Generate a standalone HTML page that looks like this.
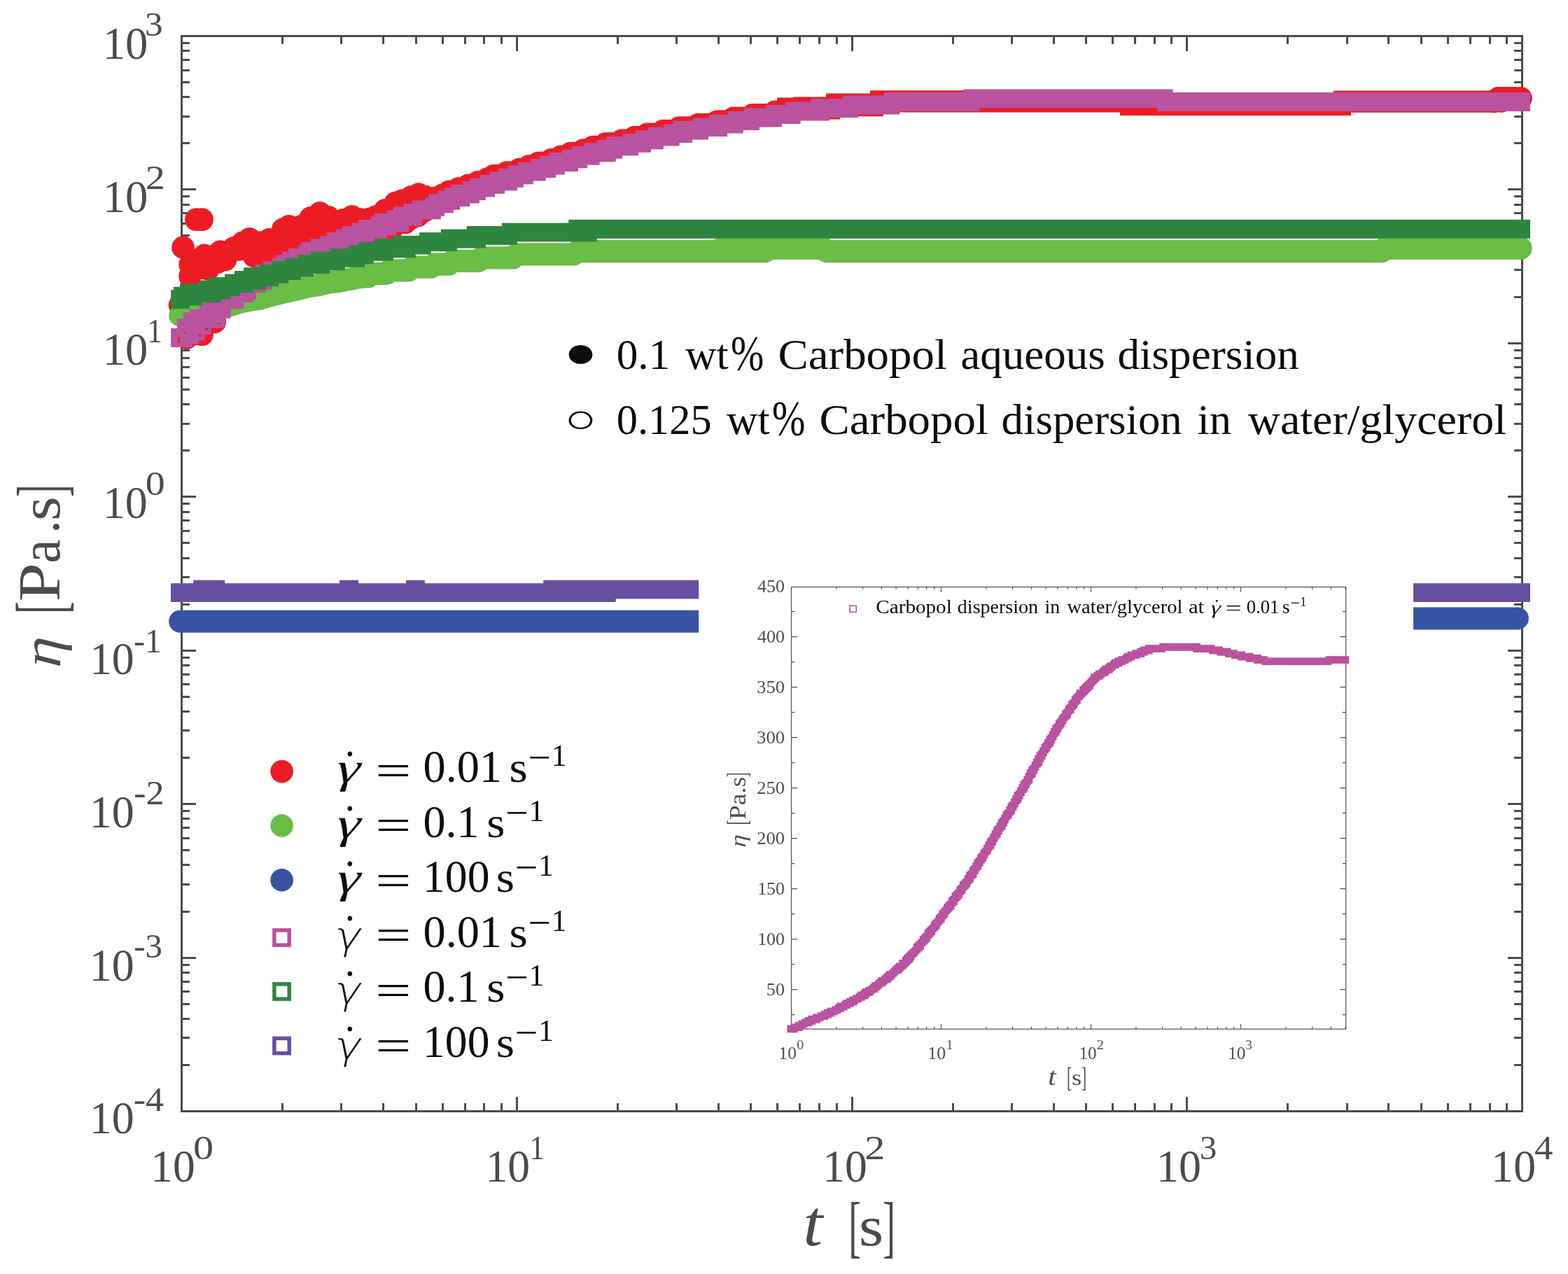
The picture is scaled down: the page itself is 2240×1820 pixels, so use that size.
<!DOCTYPE html>
<html><head><meta charset="utf-8"><title>Viscosity vs time</title>
<style>html,body{margin:0;padding:0;background:#fff}svg{display:block}text{font-family:'Liberation Serif',serif;white-space:pre}</style></head>
<body>
<svg width="2240" height="1820" viewBox="0 0 2240 1820">
<path d="M403.5 1587.5v-11.5M403.5 51.5v11.4M487.5 1587.5v-11.5M487.5 51.5v11.4M547.5 1587.5v-11.5M547.5 51.5v11.4M594.5 1587.5v-11.5M594.5 51.5v11.4M632.5 1587.5v-11.5M632.5 51.5v11.4M664.5 1587.5v-11.5M664.5 51.5v11.4M691.5 1587.5v-11.5M691.5 51.5v11.4M716.5 1587.5v-11.5M716.5 51.5v11.4M738.5 1587.5v-20.6M738.5 51.5v21.5M882.5 1587.5v-11.5M882.5 51.5v11.4M966.5 1587.5v-11.5M966.5 51.5v11.4M1026.5 1587.5v-11.5M1026.5 51.5v11.4M1072.5 1587.5v-11.5M1072.5 51.5v11.4M1110.5 1587.5v-11.5M1110.5 51.5v11.4M1142.5 1587.5v-11.5M1142.5 51.5v11.4M1170.5 1587.5v-11.5M1170.5 51.5v11.4M1195.5 1587.5v-11.5M1195.5 51.5v11.4M1217.5 1587.5v-20.6M1217.5 51.5v21.5M1361.5 1587.5v-11.5M1361.5 51.5v11.4M1445.5 1587.5v-11.5M1445.5 51.5v11.4M1505.5 1587.5v-11.5M1505.5 51.5v11.4M1551.5 1587.5v-11.5M1551.5 51.5v11.4M1589.5 1587.5v-11.5M1589.5 51.5v11.4M1621.5 1587.5v-11.5M1621.5 51.5v11.4M1649.5 1587.5v-11.5M1649.5 51.5v11.4M1673.5 1587.5v-11.5M1673.5 51.5v11.4M1695.5 1587.5v-20.6M1695.5 51.5v21.5M1839.5 1587.5v-11.5M1839.5 51.5v11.4M1924.5 1587.5v-11.5M1924.5 51.5v11.4M1983.5 1587.5v-11.5M1983.5 51.5v11.4M2030.5 1587.5v-11.5M2030.5 51.5v11.4M2068.5 1587.5v-11.5M2068.5 51.5v11.4M2100.5 1587.5v-11.5M2100.5 51.5v11.4M2128.5 1587.5v-11.5M2128.5 51.5v11.4M2152.5 1587.5v-11.5M2152.5 51.5v11.4M259.5 1521.5h11.45M2174.5 1521.5h-11.45M259.5 1482.5h11.45M2174.5 1482.5h-11.45M259.5 1455.5h11.45M2174.5 1455.5h-11.45M259.5 1434.5h11.45M2174.5 1434.5h-11.45M259.5 1416.5h11.45M2174.5 1416.5h-11.45M259.5 1402.5h11.45M2174.5 1402.5h-11.45M259.5 1389.5h11.45M2174.5 1389.5h-11.45M259.5 1378.5h11.45M2174.5 1378.5h-11.45M259.5 1368.5h20.5M2174.5 1368.5h-20.5M259.5 1302.5h11.45M2174.5 1302.5h-11.45M259.5 1263.5h11.45M2174.5 1263.5h-11.45M259.5 1235.5h11.45M2174.5 1235.5h-11.45M259.5 1214.5h11.45M2174.5 1214.5h-11.45M259.5 1197.5h11.45M2174.5 1197.5h-11.45M259.5 1182.5h11.45M2174.5 1182.5h-11.45M259.5 1169.5h11.45M2174.5 1169.5h-11.45M259.5 1158.5h11.45M2174.5 1158.5h-11.45M259.5 1148.5h20.5M2174.5 1148.5h-20.5M259.5 1082.5h11.45M2174.5 1082.5h-11.45M259.5 1043.5h11.45M2174.5 1043.5h-11.45M259.5 1016.5h11.45M2174.5 1016.5h-11.45M259.5 995.5h11.45M2174.5 995.5h-11.45M259.5 977.5h11.45M2174.5 977.5h-11.45M259.5 963.5h11.45M2174.5 963.5h-11.45M259.5 950.5h11.45M2174.5 950.5h-11.45M259.5 939.5h11.45M2174.5 939.5h-11.45M259.5 929.5h20.5M2174.5 929.5h-20.5M259.5 863.5h11.45M2174.5 863.5h-11.45M259.5 824.5h11.45M2174.5 824.5h-11.45M259.5 797.5h11.45M2174.5 797.5h-11.45M259.5 775.5h11.45M2174.5 775.5h-11.45M259.5 758.5h11.45M2174.5 758.5h-11.45M259.5 743.5h11.45M2174.5 743.5h-11.45M259.5 731.5h11.45M2174.5 731.5h-11.45M259.5 719.5h11.45M2174.5 719.5h-11.45M259.5 709.5h20.5M2174.5 709.5h-20.5M259.5 643.5h11.45M2174.5 643.5h-11.45M259.5 605.5h11.45M2174.5 605.5h-11.45M259.5 577.5h11.45M2174.5 577.5h-11.45M259.5 556.5h11.45M2174.5 556.5h-11.45M259.5 539.5h11.45M2174.5 539.5h-11.45M259.5 524.5h11.45M2174.5 524.5h-11.45M259.5 511.5h11.45M2174.5 511.5h-11.45M259.5 500.5h11.45M2174.5 500.5h-11.45M259.5 490.5h20.5M2174.5 490.5h-20.5M259.5 424.5h11.45M2174.5 424.5h-11.45M259.5 385.5h11.45M2174.5 385.5h-11.45M259.5 358.5h11.45M2174.5 358.5h-11.45M259.5 336.5h11.45M2174.5 336.5h-11.45M259.5 319.5h11.45M2174.5 319.5h-11.45M259.5 304.5h11.45M2174.5 304.5h-11.45M259.5 292.5h11.45M2174.5 292.5h-11.45M259.5 280.5h11.45M2174.5 280.5h-11.45M259.5 270.5h20.5M2174.5 270.5h-20.5M259.5 204.5h11.45M2174.5 204.5h-11.45M259.5 166.5h11.45M2174.5 166.5h-11.45M259.5 138.5h11.45M2174.5 138.5h-11.45M259.5 117.5h11.45M2174.5 117.5h-11.45M259.5 100.5h11.45M2174.5 100.5h-11.45M259.5 85.5h11.45M2174.5 85.5h-11.45M259.5 72.5h11.45M2174.5 72.5h-11.45M259.5 61.5h11.45M2174.5 61.5h-11.45" stroke="#4a4b4d" stroke-width="3" fill="none"/>
<rect x="259.5" y="51.5" width="1915" height="1536" fill="none" stroke="#4a4b4d" stroke-width="3"/>
<g fill="#ed1c24">
<path d="M264 313.6a16.3 16.3 0 1 0 32.6 0a16.3 16.3 0 1 0 -32.6 0ZM272.3 313.6a16.3 16.3 0 1 0 32.6 0a16.3 16.3 0 1 0 -32.6 0ZM245.2 353.5a16.3 16.3 0 1 0 32.6 0a16.3 16.3 0 1 0 -32.6 0ZM255.3 378.1a16.3 16.3 0 1 0 32.6 0a16.3 16.3 0 1 0 -32.6 0ZM255.3 394.5a16.3 16.3 0 1 0 32.6 0a16.3 16.3 0 1 0 -32.6 0ZM281.2 384.4a16.3 16.3 0 1 0 32.6 0a16.3 16.3 0 1 0 -32.6 0ZM305.7 371a16.3 16.3 0 1 0 32.6 0a16.3 16.3 0 1 0 -32.6 0ZM346.7 366a16.3 16.3 0 1 0 32.6 0a16.3 16.3 0 1 0 -32.6 0ZM268.7 383a16.3 16.3 0 1 0 32.6 0a16.3 16.3 0 1 0 -32.6 0ZM293.7 375a16.3 16.3 0 1 0 32.6 0a16.3 16.3 0 1 0 -32.6 0ZM250.3 482.8a16.3 16.3 0 1 0 32.6 0a16.3 16.3 0 1 0 -32.6 0ZM272.3 477.9a16.3 16.3 0 1 0 32.6 0a16.3 16.3 0 1 0 -32.6 0ZM290.4 460a16.3 16.3 0 1 0 32.6 0a16.3 16.3 0 1 0 -32.6 0ZM240.7 436a16.3 16.3 0 1 0 32.6 0a16.3 16.3 0 1 0 -32.6 0ZM583.7 304.3a16.3 16.3 0 1 0 32.6 0a16.3 16.3 0 1 0 -32.6 0ZM589.7 301.5a16.3 16.3 0 1 0 32.6 0a16.3 16.3 0 1 0 -32.6 0ZM262.2 371.9a16.3 16.3 0 1 0 32.6 0a16.3 16.3 0 1 0 -32.6 0ZM275.6 364.9a16.3 16.3 0 1 0 32.6 0a16.3 16.3 0 1 0 -32.6 0ZM286.8 366.3a16.3 16.3 0 1 0 32.6 0a16.3 16.3 0 1 0 -32.6 0ZM298.1 359.5a16.3 16.3 0 1 0 32.6 0a16.3 16.3 0 1 0 -32.6 0ZM306.5 360.7a16.3 16.3 0 1 0 32.6 0a16.3 16.3 0 1 0 -32.6 0ZM317.7 354.3a16.3 16.3 0 1 0 32.6 0a16.3 16.3 0 1 0 -32.6 0ZM324.8 356.4a16.3 16.3 0 1 0 32.6 0a16.3 16.3 0 1 0 -32.6 0ZM330.4 346.6a16.3 16.3 0 1 0 32.6 0a16.3 16.3 0 1 0 -32.6 0ZM340.2 341.4a16.3 16.3 0 1 0 32.6 0a16.3 16.3 0 1 0 -32.6 0ZM354.3 346.6a16.3 16.3 0 1 0 32.6 0a16.3 16.3 0 1 0 -32.6 0ZM368.3 342.4a16.3 16.3 0 1 0 32.6 0a16.3 16.3 0 1 0 -32.6 0ZM384.5 336.8a16.3 16.3 0 1 0 32.6 0a16.3 16.3 0 1 0 -32.6 0ZM388 327.6a16.3 16.3 0 1 0 32.6 0a16.3 16.3 0 1 0 -32.6 0ZM396.5 323.4a16.3 16.3 0 1 0 32.6 0a16.3 16.3 0 1 0 -32.6 0ZM406.3 325.5a16.3 16.3 0 1 0 32.6 0a16.3 16.3 0 1 0 -32.6 0ZM413.3 323.4a16.3 16.3 0 1 0 32.6 0a16.3 16.3 0 1 0 -32.6 0ZM421.8 324.8a16.3 16.3 0 1 0 32.6 0a16.3 16.3 0 1 0 -32.6 0ZM427.4 311.4a16.3 16.3 0 1 0 32.6 0a16.3 16.3 0 1 0 -32.6 0ZM440.7 304.4a16.3 16.3 0 1 0 32.6 0a16.3 16.3 0 1 0 -32.6 0ZM452.7 310a16.3 16.3 0 1 0 32.6 0a16.3 16.3 0 1 0 -32.6 0ZM458.3 321.3a16.3 16.3 0 1 0 32.6 0a16.3 16.3 0 1 0 -32.6 0ZM473.8 314.3a16.3 16.3 0 1 0 32.6 0a16.3 16.3 0 1 0 -32.6 0ZM486.4 309.3a16.3 16.3 0 1 0 32.6 0a16.3 16.3 0 1 0 -32.6 0ZM499.1 313.6a16.3 16.3 0 1 0 32.6 0a16.3 16.3 0 1 0 -32.6 0ZM503.7 315.8a16.3 16.3 0 1 0 32.6 0a16.3 16.3 0 1 0 -32.6 0ZM507.9 316.5a16.3 16.3 0 1 0 32.6 0a16.3 16.3 0 1 0 -32.6 0ZM512.1 312.7a16.3 16.3 0 1 0 32.6 0a16.3 16.3 0 1 0 -32.6 0ZM520.6 309.5a16.3 16.3 0 1 0 32.6 0a16.3 16.3 0 1 0 -32.6 0ZM529 310.2a16.3 16.3 0 1 0 32.6 0a16.3 16.3 0 1 0 -32.6 0ZM533.9 300.3a16.3 16.3 0 1 0 32.6 0a16.3 16.3 0 1 0 -32.6 0ZM545.9 294.7a16.3 16.3 0 1 0 32.6 0a16.3 16.3 0 1 0 -32.6 0ZM548.7 289.8a16.3 16.3 0 1 0 32.6 0a16.3 16.3 0 1 0 -32.6 0ZM558.5 286.6a16.3 16.3 0 1 0 32.6 0a16.3 16.3 0 1 0 -32.6 0ZM564.2 288.4a16.3 16.3 0 1 0 32.6 0a16.3 16.3 0 1 0 -32.6 0ZM571.2 281.4a16.3 16.3 0 1 0 32.6 0a16.3 16.3 0 1 0 -32.6 0ZM581.7 277.6a16.3 16.3 0 1 0 32.6 0a16.3 16.3 0 1 0 -32.6 0ZM590.9 280.7a16.3 16.3 0 1 0 32.6 0a16.3 16.3 0 1 0 -32.6 0ZM596.5 286.3a16.3 16.3 0 1 0 32.6 0a16.3 16.3 0 1 0 -32.6 0ZM602.1 284.2a16.3 16.3 0 1 0 32.6 0a16.3 16.3 0 1 0 -32.6 0ZM355.7 368.18a16.3 16.3 0 1 0 32.6 0a16.3 16.3 0 1 0 -32.6 0ZM364.7 365.48a16.3 16.3 0 1 0 32.6 0a16.3 16.3 0 1 0 -32.6 0ZM364.7 383.48a16.3 16.3 0 1 0 32.6 0a16.3 16.3 0 1 0 -32.6 0ZM373.7 362.53a16.3 16.3 0 1 0 32.6 0a16.3 16.3 0 1 0 -32.6 0ZM373.7 380.53a16.3 16.3 0 1 0 32.6 0a16.3 16.3 0 1 0 -32.6 0ZM382.7 359.42a16.3 16.3 0 1 0 32.6 0a16.3 16.3 0 1 0 -32.6 0ZM382.7 377.42a16.3 16.3 0 1 0 32.6 0a16.3 16.3 0 1 0 -32.6 0ZM391.7 347.77a16.3 16.3 0 1 0 32.6 0a16.3 16.3 0 1 0 -32.6 0ZM391.7 365.77a16.3 16.3 0 1 0 32.6 0a16.3 16.3 0 1 0 -32.6 0ZM400.7 346.3a16.3 16.3 0 1 0 32.6 0a16.3 16.3 0 1 0 -32.6 0ZM400.7 364.3a16.3 16.3 0 1 0 32.6 0a16.3 16.3 0 1 0 -32.6 0ZM409.7 346.48a16.3 16.3 0 1 0 32.6 0a16.3 16.3 0 1 0 -32.6 0ZM409.7 364.48a16.3 16.3 0 1 0 32.6 0a16.3 16.3 0 1 0 -32.6 0ZM418.7 346.29a16.3 16.3 0 1 0 32.6 0a16.3 16.3 0 1 0 -32.6 0ZM418.7 364.29a16.3 16.3 0 1 0 32.6 0a16.3 16.3 0 1 0 -32.6 0ZM427.7 333.24a16.3 16.3 0 1 0 32.6 0a16.3 16.3 0 1 0 -32.6 0ZM427.7 351.24a16.3 16.3 0 1 0 32.6 0a16.3 16.3 0 1 0 -32.6 0ZM436.7 328.51a16.3 16.3 0 1 0 32.6 0a16.3 16.3 0 1 0 -32.6 0ZM436.7 346.51a16.3 16.3 0 1 0 32.6 0a16.3 16.3 0 1 0 -32.6 0ZM445.7 328.73a16.3 16.3 0 1 0 32.6 0a16.3 16.3 0 1 0 -32.6 0ZM445.7 346.73a16.3 16.3 0 1 0 32.6 0a16.3 16.3 0 1 0 -32.6 0ZM454.7 336.04a16.3 16.3 0 1 0 32.6 0a16.3 16.3 0 1 0 -32.6 0ZM454.7 354.04a16.3 16.3 0 1 0 32.6 0a16.3 16.3 0 1 0 -32.6 0ZM463.7 340.86a16.3 16.3 0 1 0 32.6 0a16.3 16.3 0 1 0 -32.6 0ZM463.7 358.86a16.3 16.3 0 1 0 32.6 0a16.3 16.3 0 1 0 -32.6 0ZM472.7 336.8a16.3 16.3 0 1 0 32.6 0a16.3 16.3 0 1 0 -32.6 0ZM472.7 354.8a16.3 16.3 0 1 0 32.6 0a16.3 16.3 0 1 0 -32.6 0ZM481.7 333.17a16.3 16.3 0 1 0 32.6 0a16.3 16.3 0 1 0 -32.6 0ZM481.7 351.17a16.3 16.3 0 1 0 32.6 0a16.3 16.3 0 1 0 -32.6 0ZM490.7 332.76a16.3 16.3 0 1 0 32.6 0a16.3 16.3 0 1 0 -32.6 0ZM490.7 350.76a16.3 16.3 0 1 0 32.6 0a16.3 16.3 0 1 0 -32.6 0ZM499.7 335.89a16.3 16.3 0 1 0 32.6 0a16.3 16.3 0 1 0 -32.6 0ZM499.7 353.89a16.3 16.3 0 1 0 32.6 0a16.3 16.3 0 1 0 -32.6 0ZM508.7 337.78a16.3 16.3 0 1 0 32.6 0a16.3 16.3 0 1 0 -32.6 0ZM508.7 345.78a16.3 16.3 0 1 0 32.6 0a16.3 16.3 0 1 0 -32.6 0ZM517.7 332.59a16.3 16.3 0 1 0 32.6 0a16.3 16.3 0 1 0 -32.6 0ZM517.7 340.59a16.3 16.3 0 1 0 32.6 0a16.3 16.3 0 1 0 -32.6 0ZM526.7 332.01a16.3 16.3 0 1 0 32.6 0a16.3 16.3 0 1 0 -32.6 0ZM526.7 340.01a16.3 16.3 0 1 0 32.6 0a16.3 16.3 0 1 0 -32.6 0ZM535.7 321.46a16.3 16.3 0 1 0 32.6 0a16.3 16.3 0 1 0 -32.6 0ZM535.7 329.46a16.3 16.3 0 1 0 32.6 0a16.3 16.3 0 1 0 -32.6 0ZM544.7 317.26a16.3 16.3 0 1 0 32.6 0a16.3 16.3 0 1 0 -32.6 0ZM544.7 325.26a16.3 16.3 0 1 0 32.6 0a16.3 16.3 0 1 0 -32.6 0ZM553.7 310.17a16.3 16.3 0 1 0 32.6 0a16.3 16.3 0 1 0 -32.6 0ZM553.7 318.17a16.3 16.3 0 1 0 32.6 0a16.3 16.3 0 1 0 -32.6 0ZM562.7 309.93a16.3 16.3 0 1 0 32.6 0a16.3 16.3 0 1 0 -32.6 0ZM562.7 317.93a16.3 16.3 0 1 0 32.6 0a16.3 16.3 0 1 0 -32.6 0ZM571.7 303.22a16.3 16.3 0 1 0 32.6 0a16.3 16.3 0 1 0 -32.6 0ZM571.7 311.22a16.3 16.3 0 1 0 32.6 0a16.3 16.3 0 1 0 -32.6 0ZM580.7 299.96a16.3 16.3 0 1 0 32.6 0a16.3 16.3 0 1 0 -32.6 0ZM580.7 307.96a16.3 16.3 0 1 0 32.6 0a16.3 16.3 0 1 0 -32.6 0ZM597.7 287.6a16.3 16.3 0 1 0 32.6 0a16.3 16.3 0 1 0 -32.6 0ZM602.27 283.03a16.3 16.3 0 1 0 32.6 0a16.3 16.3 0 1 0 -32.6 0ZM606.83 283.03a16.3 16.3 0 1 0 32.6 0a16.3 16.3 0 1 0 -32.6 0ZM611.4 283.03a16.3 16.3 0 1 0 32.6 0a16.3 16.3 0 1 0 -32.6 0ZM615.96 278.47a16.3 16.3 0 1 0 32.6 0a16.3 16.3 0 1 0 -32.6 0ZM620.53 278.47a16.3 16.3 0 1 0 32.6 0a16.3 16.3 0 1 0 -32.6 0ZM625.09 273.9a16.3 16.3 0 1 0 32.6 0a16.3 16.3 0 1 0 -32.6 0ZM629.66 273.9a16.3 16.3 0 1 0 32.6 0a16.3 16.3 0 1 0 -32.6 0ZM634.22 273.9a16.3 16.3 0 1 0 32.6 0a16.3 16.3 0 1 0 -32.6 0ZM638.79 269.34a16.3 16.3 0 1 0 32.6 0a16.3 16.3 0 1 0 -32.6 0ZM643.35 269.34a16.3 16.3 0 1 0 32.6 0a16.3 16.3 0 1 0 -32.6 0ZM647.92 269.34a16.3 16.3 0 1 0 32.6 0a16.3 16.3 0 1 0 -32.6 0ZM652.48 264.77a16.3 16.3 0 1 0 32.6 0a16.3 16.3 0 1 0 -32.6 0ZM657.05 264.77a16.3 16.3 0 1 0 32.6 0a16.3 16.3 0 1 0 -32.6 0ZM661.61 264.77a16.3 16.3 0 1 0 32.6 0a16.3 16.3 0 1 0 -32.6 0ZM666.18 260.21a16.3 16.3 0 1 0 32.6 0a16.3 16.3 0 1 0 -32.6 0ZM670.74 260.21a16.3 16.3 0 1 0 32.6 0a16.3 16.3 0 1 0 -32.6 0ZM675.31 260.21a16.3 16.3 0 1 0 32.6 0a16.3 16.3 0 1 0 -32.6 0ZM679.87 255.64a16.3 16.3 0 1 0 32.6 0a16.3 16.3 0 1 0 -32.6 0ZM684.44 255.64a16.3 16.3 0 1 0 32.6 0a16.3 16.3 0 1 0 -32.6 0ZM689 251.08a16.3 16.3 0 1 0 32.6 0a16.3 16.3 0 1 0 -32.6 0ZM693.57 251.08a16.3 16.3 0 1 0 32.6 0a16.3 16.3 0 1 0 -32.6 0ZM698.13 251.08a16.3 16.3 0 1 0 32.6 0a16.3 16.3 0 1 0 -32.6 0ZM702.7 251.08a16.3 16.3 0 1 0 32.6 0a16.3 16.3 0 1 0 -32.6 0ZM707.26 246.51a16.3 16.3 0 1 0 32.6 0a16.3 16.3 0 1 0 -32.6 0ZM711.83 246.51a16.3 16.3 0 1 0 32.6 0a16.3 16.3 0 1 0 -32.6 0ZM716.39 246.51a16.3 16.3 0 1 0 32.6 0a16.3 16.3 0 1 0 -32.6 0ZM720.96 246.51a16.3 16.3 0 1 0 32.6 0a16.3 16.3 0 1 0 -32.6 0ZM725.52 241.95a16.3 16.3 0 1 0 32.6 0a16.3 16.3 0 1 0 -32.6 0ZM730.09 241.95a16.3 16.3 0 1 0 32.6 0a16.3 16.3 0 1 0 -32.6 0ZM734.65 241.95a16.3 16.3 0 1 0 32.6 0a16.3 16.3 0 1 0 -32.6 0ZM739.22 237.38a16.3 16.3 0 1 0 32.6 0a16.3 16.3 0 1 0 -32.6 0ZM743.78 237.38a16.3 16.3 0 1 0 32.6 0a16.3 16.3 0 1 0 -32.6 0ZM748.35 237.38a16.3 16.3 0 1 0 32.6 0a16.3 16.3 0 1 0 -32.6 0ZM752.91 232.82a16.3 16.3 0 1 0 32.6 0a16.3 16.3 0 1 0 -32.6 0ZM757.48 232.82a16.3 16.3 0 1 0 32.6 0a16.3 16.3 0 1 0 -32.6 0ZM762.04 232.82a16.3 16.3 0 1 0 32.6 0a16.3 16.3 0 1 0 -32.6 0ZM766.61 232.82a16.3 16.3 0 1 0 32.6 0a16.3 16.3 0 1 0 -32.6 0ZM771.17 228.25a16.3 16.3 0 1 0 32.6 0a16.3 16.3 0 1 0 -32.6 0ZM775.74 228.25a16.3 16.3 0 1 0 32.6 0a16.3 16.3 0 1 0 -32.6 0ZM780.3 228.25a16.3 16.3 0 1 0 32.6 0a16.3 16.3 0 1 0 -32.6 0ZM784.87 223.69a16.3 16.3 0 1 0 32.6 0a16.3 16.3 0 1 0 -32.6 0ZM789.43 223.69a16.3 16.3 0 1 0 32.6 0a16.3 16.3 0 1 0 -32.6 0ZM794 223.69a16.3 16.3 0 1 0 32.6 0a16.3 16.3 0 1 0 -32.6 0ZM798.56 219.12a16.3 16.3 0 1 0 32.6 0a16.3 16.3 0 1 0 -32.6 0ZM803.13 219.12a16.3 16.3 0 1 0 32.6 0a16.3 16.3 0 1 0 -32.6 0ZM807.69 219.12a16.3 16.3 0 1 0 32.6 0a16.3 16.3 0 1 0 -32.6 0ZM812.26 219.12a16.3 16.3 0 1 0 32.6 0a16.3 16.3 0 1 0 -32.6 0ZM816.82 214.56a16.3 16.3 0 1 0 32.6 0a16.3 16.3 0 1 0 -32.6 0ZM821.39 214.56a16.3 16.3 0 1 0 32.6 0a16.3 16.3 0 1 0 -32.6 0ZM825.95 214.56a16.3 16.3 0 1 0 32.6 0a16.3 16.3 0 1 0 -32.6 0ZM830.52 209.99a16.3 16.3 0 1 0 32.6 0a16.3 16.3 0 1 0 -32.6 0ZM835.08 209.99a16.3 16.3 0 1 0 32.6 0a16.3 16.3 0 1 0 -32.6 0ZM839.65 209.99a16.3 16.3 0 1 0 32.6 0a16.3 16.3 0 1 0 -32.6 0ZM844.21 209.99a16.3 16.3 0 1 0 32.6 0a16.3 16.3 0 1 0 -32.6 0ZM848.78 205.43a16.3 16.3 0 1 0 32.6 0a16.3 16.3 0 1 0 -32.6 0ZM853.34 205.43a16.3 16.3 0 1 0 32.6 0a16.3 16.3 0 1 0 -32.6 0ZM857.91 205.43a16.3 16.3 0 1 0 32.6 0a16.3 16.3 0 1 0 -32.6 0ZM862.47 205.43a16.3 16.3 0 1 0 32.6 0a16.3 16.3 0 1 0 -32.6 0ZM867.04 205.43a16.3 16.3 0 1 0 32.6 0a16.3 16.3 0 1 0 -32.6 0ZM871.6 200.86a16.3 16.3 0 1 0 32.6 0a16.3 16.3 0 1 0 -32.6 0ZM876.17 200.86a16.3 16.3 0 1 0 32.6 0a16.3 16.3 0 1 0 -32.6 0ZM880.73 200.86a16.3 16.3 0 1 0 32.6 0a16.3 16.3 0 1 0 -32.6 0ZM885.3 200.86a16.3 16.3 0 1 0 32.6 0a16.3 16.3 0 1 0 -32.6 0ZM889.86 196.3a16.3 16.3 0 1 0 32.6 0a16.3 16.3 0 1 0 -32.6 0ZM894.43 196.3a16.3 16.3 0 1 0 32.6 0a16.3 16.3 0 1 0 -32.6 0ZM898.99 196.3a16.3 16.3 0 1 0 32.6 0a16.3 16.3 0 1 0 -32.6 0ZM903.56 196.3a16.3 16.3 0 1 0 32.6 0a16.3 16.3 0 1 0 -32.6 0ZM908.12 191.73a16.3 16.3 0 1 0 32.6 0a16.3 16.3 0 1 0 -32.6 0ZM912.69 191.73a16.3 16.3 0 1 0 32.6 0a16.3 16.3 0 1 0 -32.6 0ZM917.25 191.73a16.3 16.3 0 1 0 32.6 0a16.3 16.3 0 1 0 -32.6 0ZM921.82 191.73a16.3 16.3 0 1 0 32.6 0a16.3 16.3 0 1 0 -32.6 0ZM926.38 191.73a16.3 16.3 0 1 0 32.6 0a16.3 16.3 0 1 0 -32.6 0ZM930.95 187.17a16.3 16.3 0 1 0 32.6 0a16.3 16.3 0 1 0 -32.6 0ZM935.51 187.17a16.3 16.3 0 1 0 32.6 0a16.3 16.3 0 1 0 -32.6 0ZM940.08 187.17a16.3 16.3 0 1 0 32.6 0a16.3 16.3 0 1 0 -32.6 0ZM944.64 187.17a16.3 16.3 0 1 0 32.6 0a16.3 16.3 0 1 0 -32.6 0ZM949.21 187.17a16.3 16.3 0 1 0 32.6 0a16.3 16.3 0 1 0 -32.6 0ZM953.77 182.6a16.3 16.3 0 1 0 32.6 0a16.3 16.3 0 1 0 -32.6 0ZM958.34 182.6a16.3 16.3 0 1 0 32.6 0a16.3 16.3 0 1 0 -32.6 0ZM962.9 182.6a16.3 16.3 0 1 0 32.6 0a16.3 16.3 0 1 0 -32.6 0ZM967.47 182.6a16.3 16.3 0 1 0 32.6 0a16.3 16.3 0 1 0 -32.6 0ZM972.03 182.6a16.3 16.3 0 1 0 32.6 0a16.3 16.3 0 1 0 -32.6 0ZM976.6 182.6a16.3 16.3 0 1 0 32.6 0a16.3 16.3 0 1 0 -32.6 0ZM981.16 178.04a16.3 16.3 0 1 0 32.6 0a16.3 16.3 0 1 0 -32.6 0ZM985.73 178.04a16.3 16.3 0 1 0 32.6 0a16.3 16.3 0 1 0 -32.6 0ZM990.29 178.04a16.3 16.3 0 1 0 32.6 0a16.3 16.3 0 1 0 -32.6 0ZM994.86 178.04a16.3 16.3 0 1 0 32.6 0a16.3 16.3 0 1 0 -32.6 0ZM999.42 178.04a16.3 16.3 0 1 0 32.6 0a16.3 16.3 0 1 0 -32.6 0ZM1003.99 178.04a16.3 16.3 0 1 0 32.6 0a16.3 16.3 0 1 0 -32.6 0ZM1008.55 173.47a16.3 16.3 0 1 0 32.6 0a16.3 16.3 0 1 0 -32.6 0ZM1013.12 173.47a16.3 16.3 0 1 0 32.6 0a16.3 16.3 0 1 0 -32.6 0ZM1017.68 173.47a16.3 16.3 0 1 0 32.6 0a16.3 16.3 0 1 0 -32.6 0ZM1022.25 173.47a16.3 16.3 0 1 0 32.6 0a16.3 16.3 0 1 0 -32.6 0ZM1026.81 173.47a16.3 16.3 0 1 0 32.6 0a16.3 16.3 0 1 0 -32.6 0ZM1031.38 168.91a16.3 16.3 0 1 0 32.6 0a16.3 16.3 0 1 0 -32.6 0ZM1035.94 168.91a16.3 16.3 0 1 0 32.6 0a16.3 16.3 0 1 0 -32.6 0ZM1040.51 168.91a16.3 16.3 0 1 0 32.6 0a16.3 16.3 0 1 0 -32.6 0ZM1045.07 168.91a16.3 16.3 0 1 0 32.6 0a16.3 16.3 0 1 0 -32.6 0ZM1049.64 168.91a16.3 16.3 0 1 0 32.6 0a16.3 16.3 0 1 0 -32.6 0ZM1054.2 168.91a16.3 16.3 0 1 0 32.6 0a16.3 16.3 0 1 0 -32.6 0ZM1058.77 164.34a16.3 16.3 0 1 0 32.6 0a16.3 16.3 0 1 0 -32.6 0ZM1063.33 164.34a16.3 16.3 0 1 0 32.6 0a16.3 16.3 0 1 0 -32.6 0ZM1067.9 164.34a16.3 16.3 0 1 0 32.6 0a16.3 16.3 0 1 0 -32.6 0ZM1072.46 164.34a16.3 16.3 0 1 0 32.6 0a16.3 16.3 0 1 0 -32.6 0ZM1077.03 164.34a16.3 16.3 0 1 0 32.6 0a16.3 16.3 0 1 0 -32.6 0ZM1081.59 164.34a16.3 16.3 0 1 0 32.6 0a16.3 16.3 0 1 0 -32.6 0ZM1086.16 164.34a16.3 16.3 0 1 0 32.6 0a16.3 16.3 0 1 0 -32.6 0ZM1090.72 159.78a16.3 16.3 0 1 0 32.6 0a16.3 16.3 0 1 0 -32.6 0ZM1095.29 159.78a16.3 16.3 0 1 0 32.6 0a16.3 16.3 0 1 0 -32.6 0Z"/>
<path d="M1110 139.4H1160V172H1110ZM1133 138.4H1200V170.6H1133ZM1180 133.6H1262V166.2H1180ZM1243 129.2H1640V160.6H1243ZM1600 132.8H1930V165.1H1600ZM1905 129.4H2134.7V160.8H1905Z"/>
<path d="M2124.3 140.2a16.2 16.2 0 1 0 32.4 0a16.2 16.2 0 1 0 -32.4 0ZM2128.8 140.2a16.2 16.2 0 1 0 32.4 0a16.2 16.2 0 1 0 -32.4 0ZM2133.8 140.2a16.2 16.2 0 1 0 32.4 0a16.2 16.2 0 1 0 -32.4 0ZM2138.8 140.2a16.2 16.2 0 1 0 32.4 0a16.2 16.2 0 1 0 -32.4 0ZM2143.8 140.2a16.2 16.2 0 1 0 32.4 0a16.2 16.2 0 1 0 -32.4 0ZM2148.8 140.2a16.2 16.2 0 1 0 32.4 0a16.2 16.2 0 1 0 -32.4 0ZM2156.4 140.2a16.2 16.2 0 1 0 32.4 0a16.2 16.2 0 1 0 -32.4 0ZM2118.5 145.1a16.2 16.2 0 1 0 32.4 0a16.2 16.2 0 1 0 -32.4 0ZM2128.6 144.5a16.2 16.2 0 1 0 32.4 0a16.2 16.2 0 1 0 -32.4 0Z"/>
</g>
<path d="M257.4 450.5L280 446L329.8 435.9L342.5 431.7L356.5 428.9L370.6 426.8L384.6 422.5L398.7 419L412.8 415.9L426.8 412.7L440.9 409.2L454.9 407.1L469 403.6L483.1 402.2L497.1 399.3L511.2 396.5L520 395.5L526 395.5L530.6 390.8L552 390.8L556.6 386.4L584 386.4L588.6 381.6L616 381.6L620.6 377.6L641.5 377.6L646.1 372.8L683.5 372.8L688.1 368.4L733 368.4L737.6 363.4L820 363.4L824.6 359.2L1093 359.2L1097 354.7L1176 354.7L1181 359.2L1974 359.2L1978 354.7L2172.6 354.7M1031 354.7H1100" fill="none" stroke="#6abd45" stroke-width="32.2" stroke-linecap="round" stroke-linejoin="round"/>
<path d="M257.2 887.8H1000M2000 883.4H2167.9" fill="none" stroke="#3953a4" stroke-width="32" stroke-linecap="round"/>
<path d="M244.1 469.05H275V495.95H244.1ZM257.2 464.49H284.1V491.39H257.2ZM265.9 459.92H292.8V486.82H265.9ZM253.2 455.36H280.1V482.26H253.2ZM275.1 450.79H302V477.69H275.1ZM262.1 446.23H289V473.13H262.1ZM271.1 441.66H321.4V468.56H271.1ZM284.8 437.1H311.7V464H284.8ZM289 432.53H315.9V459.43H289ZM296.3 427.97H329.8V454.87H296.3ZM298 423.4H328.9V450.3H298ZM300 418.84H329.8V445.74H300ZM307 414.27H348.1V441.17H307ZM315 409.71H348.1V436.61H315ZM325 405.14H362.2V432.04H325ZM332 400.58H366.1V427.48H332ZM336 396.01H366.1V422.91H336ZM343 391.45H380.1V418.35H343ZM350 386.88H388.9V413.78H350ZM358 382.32H392.9V409.22H358ZM365 377.75H398.9V404.65H365ZM376.2 373.19H410.8V400.09H376.2ZM388.9 368.62H415.8V395.52H388.9ZM393.8 364.06H424.8V390.96H393.8ZM402.9 359.49H434V386.39H402.9ZM412.1 354.93H447.7V381.83H412.1ZM425.8 350.36H452.7V377.26H425.8ZM429.9 345.8H465.9V372.7H429.9ZM444 341.23H479.7V368.13H444ZM457.8 336.67H488.8V363.56H457.8ZM466.9 332.1H501.9V359H466.9ZM480 327.54H510.9V354.44H480ZM489 322.97H524.9V349.87H489ZM503 318.41H535V345.31H503ZM512.2 313.84H553V340.74H512.2ZM529.9 309.28H566V336.18H529.9ZM534.6 304.71H584V331.61H534.6ZM552.9 300.15H580V327.05H552.9ZM562.1 295.58H602.9V322.48H562.1ZM576.2 291.02H603.1V317.92H576.2ZM588.8 286.45H629.9V313.35H588.8ZM608 281.89H634.9V308.79H608ZM612.4 277.32H647.9V304.22H612.4ZM626 272.76H657.1V299.66H626ZM635.2 268.19H671.1V295.09H635.2ZM643.9 263.63H684.9V290.53H643.9ZM661.7 259.06H693.9V285.96H661.7ZM671.1 254.5H707V281.39H671.1ZM685.3 249.93H721V276.83H685.3ZM698.9 245.37H738.9V272.26H698.9ZM712 240.8H747.8V267.7H712ZM725.6 236.24H761.8V263.13H725.6ZM740 231.67H779.8V258.57H740ZM757.9 227.11H793.9V254.01H757.9ZM771 222.54H806.8V249.44H771ZM784.8 217.97H826V244.88H784.8ZM802.9 213.41H839.1V240.31H802.9ZM816.8 208.84H856.6V235.75H816.8ZM834.6 204.32H879.7V231.22H834.6ZM852.7 199.8H888.9V226.7H852.7ZM866.6 195.28H911.9V222.18H866.6ZM889.7 190.76H930V217.66H889.7ZM907.8 186.24H947.8V213.14H907.8ZM925.6 181.72H970.6V208.62H925.6ZM948.9 177.2H989V204.1H948.9ZM961.7 172.68H1012V199.58H961.7ZM989.8 168.16H1039V195.06H989.8ZM1012.8 163.64H1061.8V190.54H1012.8ZM1039.6 159.12H1084.9V186.02H1039.6ZM1062.6 154.59H1116.9V181.49H1062.6ZM1093.8 150.07H1143.6V176.97H1093.8ZM1122.1 145.55H1185V172.45H1122.1ZM1158 141.03H1226.1V167.93H1158ZM1203.9 136.51H1285.1V163.41H1203.9ZM1262.8 131.99H1399.1V158.89H1262.8ZM1376.3 127.43H1675.6V154.33H1376.3ZM1653.8 131.99H2186V158.89H1653.8Z" fill="#b9529f"/>
<path d="M253.9 481.8H257.1V489.9H253.9ZM262.8 474H265.1V476.9H262.8ZM283.8 478.1H287.9V480.9H283.8ZM293.1 468H297.1V472H293.1ZM310.9 460.4H315V463.1H310.9Z" fill="#ed1c24"/>
<path d="M310.9 459H315V460.4H310.9Z" fill="#6abd45"/>
<path d="M244.1 414.27H271V441.17H244.1ZM248 409.71H289V436.61H248ZM257 405.14H316V432.04H257ZM284.8 400.58H329.8V427.48H284.8ZM298 396.01H343.2V422.91H298ZM321.1 391.45H362.2V418.35H321.1ZM335 386.88H380.1V413.78H335ZM348.1 382.32H398V409.22H348.1ZM371 377.75H412.1V404.65H371ZM388.9 373.19H429.9V400.09H388.9ZM406.9 368.62H447.9V395.52H406.9ZM425.8 364.06H471.1V390.96H425.8ZM444 359.49H492.9V386.39H444ZM471.1 354.93H521.3V381.83H471.1ZM498.1 350.36H533.8V377.26H498.1ZM512.2 345.8H561.9V372.7H512.2ZM535 341.23H593.8V368.13H535ZM561.9 336.67H615.9V363.56H561.9ZM599 332.1H652.9V359H599ZM629.9 327.54H693.9V354.44H629.9ZM666.9 322.97H738.9V349.87H666.9ZM716.8 318.41H852.7V345.31H716.8ZM812.1 313.84H2186V340.74H812.1Z" fill="#2e8540"/>
<path d="M244 833.25H879.7V859.95H244ZM276.2 828.85H321.2V855.55H276.2ZM485.1 828.85H512.1V855.55H485.1ZM580 828.85H606.8V855.55H580ZM776.2 828.85H1000V855.55H776.2ZM2000 833.25H2186V859.95H2000Z" fill="#674ea0"/>
<rect x="998.2" y="800" width="1020.9" height="200" fill="#fff"/>
<path d="M1194.92 1470.1v-3.6M1194.92 838.6v3.6M1232.6 1470.1v-3.6M1232.6 838.6v3.6M1259.34 1470.1v-3.6M1259.34 838.6v3.6M1280.08 1470.1v-3.6M1280.08 838.6v3.6M1297.02 1470.1v-3.6M1297.02 838.6v3.6M1311.35 1470.1v-3.6M1311.35 838.6v3.6M1323.76 1470.1v-3.6M1323.76 838.6v3.6M1334.71 1470.1v-3.6M1334.71 838.6v3.6M1344.5 1470.1v-7.4M1344.5 838.6v7.4M1408.92 1470.1v-3.6M1408.92 838.6v3.6M1446.6 1470.1v-3.6M1446.6 838.6v3.6M1473.34 1470.1v-3.6M1473.34 838.6v3.6M1494.08 1470.1v-3.6M1494.08 838.6v3.6M1511.02 1470.1v-3.6M1511.02 838.6v3.6M1525.35 1470.1v-3.6M1525.35 838.6v3.6M1537.76 1470.1v-3.6M1537.76 838.6v3.6M1548.71 1470.1v-3.6M1548.71 838.6v3.6M1558.5 1470.1v-7.4M1558.5 838.6v7.4M1622.92 1470.1v-3.6M1622.92 838.6v3.6M1660.6 1470.1v-3.6M1660.6 838.6v3.6M1687.34 1470.1v-3.6M1687.34 838.6v3.6M1708.08 1470.1v-3.6M1708.08 838.6v3.6M1725.02 1470.1v-3.6M1725.02 838.6v3.6M1739.35 1470.1v-3.6M1739.35 838.6v3.6M1751.76 1470.1v-3.6M1751.76 838.6v3.6M1762.71 1470.1v-3.6M1762.71 838.6v3.6M1772.5 1470.1v-7.4M1772.5 838.6v7.4M1836.92 1470.1v-3.6M1836.92 838.6v3.6M1874.6 1470.1v-3.6M1874.6 838.6v3.6M1901.34 1470.1v-3.6M1901.34 838.6v3.6M1922.08 1470.1v-3.6M1922.08 838.6v3.6M1130.5 1449.6h4.7M1922.7 1449.6h-4.7M1130.5 1413.6h8.5M1922.7 1413.6h-8.5M1130.5 1377.6h4.7M1922.7 1377.6h-4.7M1130.5 1341.6h8.5M1922.7 1341.6h-8.5M1130.5 1305.6h4.7M1922.7 1305.6h-4.7M1130.5 1269.6h8.5M1922.7 1269.6h-8.5M1130.5 1233.6h4.7M1922.7 1233.6h-4.7M1130.5 1197.6h8.5M1922.7 1197.6h-8.5M1130.5 1161.6h4.7M1922.7 1161.6h-4.7M1130.5 1125.6h8.5M1922.7 1125.6h-8.5M1130.5 1089.6h4.7M1922.7 1089.6h-4.7M1130.5 1053.6h8.5M1922.7 1053.6h-8.5M1130.5 1017.6h4.7M1922.7 1017.6h-4.7M1130.5 981.6h8.5M1922.7 981.6h-8.5M1130.5 945.6h4.7M1922.7 945.6h-4.7M1130.5 909.6h8.5M1922.7 909.6h-8.5M1130.5 873.6h4.7M1922.7 873.6h-4.7" stroke="#4d4e50" stroke-width="1.1" fill="none"/>
<rect x="1130.5" y="838.6" width="792.2" height="631.5" fill="none" stroke="#4d4e50" stroke-width="1.2"/>
<path d="M1231.71 1414.32L1229.43 1414.32L1229.43 1416.6L1227.15 1416.6L1224.87 1416.6L1224.87 1418.88L1222.59 1418.88L1222.59 1421.16L1220.3 1421.16L1218.02 1421.16L1218.02 1423.44L1215.74 1423.44L1213.45 1423.44L1213.45 1425.73L1211.17 1425.73L1208.89 1425.73L1208.89 1428.01L1206.61 1428.01L1204.33 1428.01L1204.33 1430.29L1202.04 1430.29L1202.04 1432.58L1199.76 1432.58L1197.48 1432.58L1195.19 1432.58L1195.19 1434.86L1192.91 1434.86L1192.91 1437.14L1190.63 1437.14L1188.35 1437.14L1188.35 1439.42L1186.07 1439.42L1183.78 1439.42L1181.5 1439.42L1181.5 1441.7L1179.22 1441.7L1176.93 1441.7L1176.93 1443.99L1174.65 1443.99L1172.37 1443.99L1172.37 1446.27L1170.09 1446.27L1167.81 1446.27L1167.81 1448.55L1165.52 1448.55L1163.24 1448.55L1160.96 1448.55L1160.96 1450.84L1158.67 1450.84L1156.39 1450.84L1154.11 1450.84L1154.11 1453.12L1151.83 1453.12L1149.55 1453.12L1149.55 1455.4L1147.26 1455.4L1144.98 1455.4L1144.98 1457.68L1142.7 1457.68L1140.41 1457.68L1140.41 1459.97L1138.13 1459.97L1135.85 1459.97L1135.85 1462.25L1133.57 1462.25L1131.29 1462.25L1131.29 1464.53L1129 1464.53L1126.72 1464.53L1124.44 1464.53L1124.44 1475.33L1126.72 1475.33L1129 1475.33L1135.24 1475.33L1137.52 1475.33L1139.8 1475.33L1139.8 1473.05L1142.09 1473.05L1144.37 1473.05L1146.65 1473.05L1146.65 1470.77L1148.93 1470.77L1148.93 1468.48L1151.22 1468.48L1153.5 1468.48L1153.5 1466.2L1155.78 1466.2L1158.06 1466.2L1160.35 1466.2L1160.35 1463.92L1162.63 1463.92L1164.91 1463.92L1164.91 1461.64L1167.19 1461.64L1169.48 1461.64L1171.76 1461.64L1171.76 1459.35L1174.04 1459.35L1176.32 1459.35L1176.32 1457.07L1178.61 1457.07L1180.89 1457.07L1183.17 1457.07L1183.17 1454.79L1185.45 1454.79L1187.74 1454.79L1187.74 1452.51L1190.02 1452.51L1192.3 1452.51L1192.3 1450.22L1194.58 1450.22L1196.87 1450.22L1196.87 1447.94L1199.15 1447.94L1201.43 1447.94L1201.43 1445.66L1203.71 1445.66L1206 1445.66L1206 1443.38L1208.28 1443.38L1210.56 1443.38L1210.56 1441.09L1212.84 1441.09L1215.13 1441.09L1215.13 1438.81L1217.41 1438.81L1219.69 1438.81L1219.69 1436.53L1221.97 1436.53L1224.26 1436.53L1224.26 1434.25L1226.54 1434.25L1226.54 1431.96L1228.82 1431.96L1231.1 1431.96L1231.1 1429.68L1233.39 1429.68L1235.67 1429.68L1235.67 1427.4L1237.95 1427.4L1240.23 1427.4L1240.23 1425.12L1242.52 1425.12L1242.52 1422.83L1244.8 1422.83L1247.08 1422.83L1247.08 1420.55L1249.36 1420.55L1249.36 1418.27L1251.65 1418.27L1253.93 1418.27L1253.93 1415.99L1256.21 1415.99L1256.21 1413.7L1258.49 1413.7L1258.49 1411.42L1260.78 1411.42L1260.78 1409.14L1263.06 1409.14L1265.34 1409.14L1265.34 1406.86L1267.62 1406.86L1267.62 1404.57L1269.91 1404.57L1272.19 1404.57L1272.19 1402.29L1274.47 1402.29L1274.47 1400.01L1276.75 1400.01L1276.75 1397.73L1279.04 1397.73L1279.04 1395.44L1281.32 1395.44L1281.32 1393.16L1283.6 1393.16L1283.6 1390.88L1285.88 1390.88L1288.17 1390.88L1288.17 1388.6L1290.45 1388.6L1290.45 1386.31L1292.73 1386.31L1292.73 1384.03L1295.01 1384.03L1295.01 1381.75L1297.3 1381.75L1297.3 1379.47L1299.58 1379.47L1299.58 1377.18L1301.86 1377.18L1301.86 1374.9L1304.14 1374.9L1304.14 1372.62L1306.43 1372.62L1306.43 1370.34L1306.43 1368.05L1308.71 1368.05L1308.71 1365.77L1310.99 1365.77L1310.99 1363.49L1313.27 1363.49L1313.27 1361.21L1315.56 1361.21L1315.56 1358.92L1317.84 1358.92L1317.84 1356.64L1320.12 1356.64L1320.12 1354.36L1320.12 1352.08L1322.4 1352.08L1322.4 1349.79L1324.69 1349.79L1324.69 1347.51L1326.97 1347.51L1326.97 1345.23L1329.25 1345.23L1329.25 1342.95L1329.25 1340.66L1331.53 1340.66L1331.53 1338.38L1333.82 1338.38L1333.82 1336.1L1336.1 1336.1L1336.1 1333.82L1336.1 1331.53L1338.38 1331.53L1338.38 1329.25L1340.66 1329.25L1340.66 1326.97L1342.95 1326.97L1342.95 1324.69L1342.95 1322.4L1345.23 1322.4L1345.23 1320.12L1347.51 1320.12L1347.51 1317.84L1349.79 1317.84L1349.79 1315.56L1349.79 1313.27L1352.08 1313.27L1352.08 1310.99L1354.36 1310.99L1354.36 1308.71L1354.36 1306.43L1356.64 1306.43L1356.64 1304.14L1358.92 1304.14L1358.92 1301.86L1361.21 1301.86L1361.21 1299.58L1363.49 1299.58L1363.49 1297.3L1363.49 1295.01L1365.77 1295.01L1365.77 1292.73L1368.05 1292.73L1368.05 1290.45L1368.05 1288.17L1370.34 1288.17L1370.34 1285.88L1372.62 1285.88L1372.62 1283.6L1374.9 1283.6L1374.9 1281.32L1374.9 1279.04L1377.18 1279.04L1377.18 1276.75L1379.47 1276.75L1379.47 1274.47L1379.47 1272.19L1381.75 1272.19L1381.75 1269.91L1384.03 1269.91L1384.03 1267.62L1386.31 1267.62L1386.31 1265.34L1386.31 1263.06L1388.6 1263.06L1388.6 1260.78L1390.88 1260.78L1390.88 1258.49L1390.88 1256.21L1393.16 1256.21L1393.16 1253.93L1395.44 1253.93L1395.44 1251.65L1395.44 1249.36L1397.73 1249.36L1397.73 1247.08L1397.73 1244.8L1400.01 1244.8L1400.01 1242.52L1402.29 1242.52L1402.29 1240.23L1402.29 1237.95L1404.57 1237.95L1404.57 1235.67L1404.57 1233.39L1406.86 1233.39L1406.86 1231.1L1409.14 1231.1L1409.14 1228.82L1409.14 1226.54L1411.42 1226.54L1411.42 1224.26L1411.42 1221.97L1413.7 1221.97L1413.7 1219.69L1415.99 1219.69L1415.99 1217.41L1415.99 1215.13L1418.27 1215.13L1418.27 1212.84L1420.55 1212.84L1420.55 1210.56L1420.55 1208.28L1422.83 1208.28L1422.83 1206L1422.83 1203.71L1425.12 1203.71L1425.12 1201.43L1425.12 1199.15L1427.4 1199.15L1427.4 1196.87L1429.68 1196.87L1429.68 1194.58L1429.68 1192.3L1431.96 1192.3L1431.96 1190.02L1431.96 1187.74L1434.25 1187.74L1434.25 1185.45L1436.53 1185.45L1436.53 1183.17L1436.53 1180.89L1438.81 1180.89L1438.81 1178.61L1438.81 1176.32L1441.09 1176.32L1441.09 1174.04L1441.09 1171.76L1443.38 1171.76L1443.38 1169.48L1445.66 1169.48L1445.66 1167.19L1445.66 1164.91L1447.94 1164.91L1447.94 1162.63L1450.22 1162.63L1450.22 1160.35L1450.22 1158.06L1452.51 1158.06L1452.51 1155.78L1452.51 1153.5L1454.79 1153.5L1454.79 1151.22L1454.79 1148.93L1457.07 1148.93L1457.07 1146.65L1459.35 1146.65L1459.35 1144.37L1459.35 1142.09L1461.64 1142.09L1461.64 1139.8L1461.64 1137.52L1463.92 1137.52L1463.92 1135.24L1463.92 1132.96L1466.2 1132.96L1466.2 1130.67L1468.48 1130.67L1468.48 1128.39L1468.48 1126.11L1470.77 1126.11L1470.77 1123.83L1470.77 1121.54L1473.05 1121.54L1473.05 1119.26L1475.33 1119.26L1475.33 1116.98L1475.33 1114.7L1475.33 1112.41L1477.61 1112.41L1477.61 1110.13L1479.9 1110.13L1479.9 1107.85L1479.9 1105.57L1482.18 1105.57L1482.18 1103.28L1482.18 1101L1484.46 1101L1484.46 1098.72L1484.46 1096.44L1486.74 1096.44L1486.74 1094.15L1489.03 1094.15L1489.03 1091.87L1489.03 1089.59L1491.31 1089.59L1491.31 1087.31L1491.31 1085.02L1493.59 1085.02L1493.59 1082.74L1493.59 1080.46L1495.87 1080.46L1495.87 1078.18L1495.87 1075.89L1498.16 1075.89L1498.16 1073.61L1500.44 1073.61L1500.44 1071.33L1500.44 1069.05L1502.72 1069.05L1502.72 1066.76L1505 1066.76L1505 1064.48L1505 1062.2L1507.29 1062.2L1507.29 1059.92L1507.29 1057.63L1509.57 1057.63L1509.57 1055.35L1509.57 1053.07L1511.85 1053.07L1511.85 1050.79L1514.13 1050.79L1514.13 1048.5L1514.13 1046.22L1516.42 1046.22L1516.42 1043.94L1516.42 1041.66L1518.7 1041.66L1518.7 1039.37L1520.98 1039.37L1520.98 1037.09L1520.98 1034.81L1523.26 1034.81L1523.26 1032.53L1523.26 1030.24L1525.55 1030.24L1525.55 1027.96L1527.83 1027.96L1527.83 1025.68L1530.11 1025.68L1530.11 1023.4L1530.11 1021.11L1532.39 1021.11L1532.39 1018.83L1534.68 1018.83L1534.68 1016.55L1534.68 1014.27L1536.96 1014.27L1536.96 1011.98L1539.24 1011.98L1539.24 1009.7L1539.24 1007.42L1541.52 1007.42L1541.52 1005.14L1543.81 1005.14L1543.81 1002.85L1543.81 1000.57L1546.09 1000.57L1546.09 998.29L1548.37 998.29L1548.37 996.01L1550.65 996.01L1550.65 993.72L1552.94 993.72L1552.94 991.44L1555.22 991.44L1555.22 989.16L1557.5 989.16L1557.5 986.88L1559.78 986.88L1559.78 984.59L1562.07 984.59L1562.07 982.31L1562.07 980.03L1564.35 980.03L1564.35 977.75L1566.63 977.75L1566.63 975.46L1568.91 975.46L1568.91 973.18L1571.2 973.18L1571.2 970.9L1573.48 970.9L1575.76 970.9L1575.76 968.62L1578.04 968.62L1578.04 966.33L1580.33 966.33L1582.61 966.33L1582.61 964.05L1584.89 964.05L1584.89 961.77L1587.17 961.77L1589.46 961.77L1589.46 959.49L1591.74 959.49L1591.74 957.2L1594.02 957.2L1594.02 954.92L1596.3 954.92L1598.59 954.92L1598.59 952.64L1600.87 952.64L1603.15 952.64L1603.15 950.36L1605.43 950.36L1607.72 950.36L1607.72 948.07L1610 948.07L1612.28 948.07L1612.28 945.79L1614.56 945.79L1616.85 945.79L1616.85 943.51L1619.13 943.51L1621.41 943.51L1621.41 941.23L1623.69 941.23L1625.98 941.23L1628.26 941.23L1628.26 938.94L1630.54 938.94L1632.82 938.94L1635.11 938.94L1635.11 936.66L1637.39 936.66L1639.67 936.66L1639.67 934.38L1641.95 934.38L1644.24 934.38L1646.52 934.38L1646.52 932.1L1647.13 932.1L1648.8 932.1L1649.41 932.1L1651.08 932.1L1651.7 932.1L1653.37 932.1L1653.98 932.1L1655.65 932.1L1657.93 932.1L1660.21 932.1L1662.5 932.1L1664.78 932.1L1664.78 929.81L1665.39 929.81L1667.06 929.81L1667.67 929.81L1669.34 929.81L1669.96 929.81L1671.63 929.81L1672.24 929.81L1673.91 929.81L1674.52 929.81L1676.19 929.81L1676.8 929.81L1678.47 929.81L1679.09 929.81L1680.76 929.81L1681.37 929.81L1683.04 929.81L1683.65 929.81L1685.32 929.81L1685.93 929.81L1687.6 929.81L1688.22 929.81L1689.89 929.81L1690.5 929.81L1692.17 929.81L1692.78 929.81L1694.45 929.81L1695.06 929.81L1696.73 929.81L1697.35 929.81L1699.02 929.81L1699.63 929.81L1701.3 929.81L1701.91 929.81L1703.58 929.81L1704.19 929.81L1704.19 932.1L1706.48 932.1L1708.76 932.1L1711.04 932.1L1713.32 932.1L1714.99 932.1L1715.61 932.1L1717.28 932.1L1717.89 932.1L1719.56 932.1L1720.17 932.1L1721.84 932.1L1722.45 932.1L1724.12 932.1L1724.74 932.1L1726.41 932.1L1727.02 932.1L1727.02 934.38L1729.3 934.38L1731.58 934.38L1733.87 934.38L1736.15 934.38L1737.82 934.38L1738.43 934.38L1738.43 936.66L1740.71 936.66L1743 936.66L1745.28 936.66L1747.56 936.66L1749.23 936.66L1749.84 936.66L1749.84 938.94L1752.12 938.94L1754.41 938.94L1756.69 938.94L1758.97 938.94L1758.97 941.23L1761.26 941.23L1763.54 941.23L1765.82 941.23L1768.1 941.23L1768.1 943.51L1770.38 943.51L1772.67 943.51L1774.95 943.51L1777.23 943.51L1778.9 943.51L1779.52 943.51L1779.52 945.79L1781.8 945.79L1784.08 945.79L1786.36 945.79L1788.64 945.79L1790.32 945.79L1790.93 945.79L1790.93 948.07L1793.21 948.07L1795.49 948.07L1797.78 948.07L1800.06 948.07L1801.73 948.07L1802.34 948.07L1802.34 950.36L1804.62 950.36L1806.9 950.36L1809.19 950.36L1811.47 950.36L1813.14 950.36L1813.75 950.36L1815.42 950.36L1816.04 950.36L1817.71 950.36L1818.32 950.36L1819.99 950.36L1820.6 950.36L1822.27 950.36L1822.88 950.36L1824.55 950.36L1825.16 950.36L1826.84 950.36L1827.45 950.36L1829.12 950.36L1829.73 950.36L1831.4 950.36L1832.01 950.36L1833.68 950.36L1834.3 950.36L1835.97 950.36L1836.58 950.36L1838.25 950.36L1838.86 950.36L1840.53 950.36L1841.14 950.36L1842.81 950.36L1843.42 950.36L1845.1 950.36L1845.71 950.36L1847.38 950.36L1847.99 950.36L1849.66 950.36L1850.27 950.36L1851.94 950.36L1852.56 950.36L1854.23 950.36L1854.84 950.36L1856.51 950.36L1857.12 950.36L1858.79 950.36L1859.4 950.36L1861.07 950.36L1861.69 950.36L1863.36 950.36L1863.97 950.36L1865.64 950.36L1866.25 950.36L1867.92 950.36L1868.53 950.36L1870.2 950.36L1870.82 950.36L1872.49 950.36L1873.1 950.36L1874.77 950.36L1875.38 950.36L1877.05 950.36L1877.66 950.36L1879.33 950.36L1879.95 950.36L1881.62 950.36L1882.23 950.36L1883.9 950.36L1884.51 950.36L1886.18 950.36L1886.79 950.36L1888.46 950.36L1889.08 950.36L1890.75 950.36L1891.36 950.36L1893.03 950.36L1895.31 950.36L1897.59 950.36L1899.88 950.36L1902.16 950.36L1902.16 948.07L1902.77 948.07L1904.44 948.07L1905.05 948.07L1906.72 948.07L1907.34 948.07L1909.01 948.07L1909.62 948.07L1911.29 948.07L1911.9 948.07L1913.57 948.07L1914.18 948.07L1915.85 948.07L1916.47 948.07L1918.14 948.07L1920.42 948.07L1922.7 948.07L1924.98 948.07L1927.27 948.07L1927.27 937.27L1924.98 937.27L1922.7 937.27L1920.42 937.27L1918.14 937.27L1916.47 937.27L1915.85 937.27L1914.18 937.27L1913.57 937.27L1911.9 937.27L1911.29 937.27L1909.62 937.27L1909.01 937.27L1907.34 937.27L1906.72 937.27L1905.05 937.27L1904.44 937.27L1902.77 937.27L1900.49 937.27L1898.21 937.27L1895.92 937.27L1893.64 937.27L1893.64 939.56L1893.03 939.56L1891.36 939.56L1890.75 939.56L1889.08 939.56L1888.46 939.56L1886.79 939.56L1886.18 939.56L1884.51 939.56L1883.9 939.56L1882.23 939.56L1881.62 939.56L1879.95 939.56L1879.33 939.56L1877.66 939.56L1877.05 939.56L1875.38 939.56L1874.77 939.56L1873.1 939.56L1872.49 939.56L1870.82 939.56L1870.2 939.56L1868.53 939.56L1867.92 939.56L1866.25 939.56L1865.64 939.56L1863.97 939.56L1863.36 939.56L1861.69 939.56L1861.07 939.56L1859.4 939.56L1858.79 939.56L1857.12 939.56L1856.51 939.56L1854.84 939.56L1854.23 939.56L1852.56 939.56L1851.94 939.56L1850.27 939.56L1849.66 939.56L1847.99 939.56L1847.38 939.56L1845.71 939.56L1845.1 939.56L1843.42 939.56L1842.81 939.56L1841.14 939.56L1840.53 939.56L1838.86 939.56L1838.25 939.56L1836.58 939.56L1835.97 939.56L1834.3 939.56L1833.68 939.56L1832.01 939.56L1831.4 939.56L1829.73 939.56L1829.12 939.56L1827.45 939.56L1826.84 939.56L1825.16 939.56L1824.55 939.56L1822.88 939.56L1822.27 939.56L1820.6 939.56L1819.99 939.56L1818.32 939.56L1817.71 939.56L1816.04 939.56L1815.42 939.56L1813.75 939.56L1813.14 939.56L1811.47 939.56L1810.86 939.56L1810.86 937.27L1808.58 937.27L1806.29 937.27L1804.01 937.27L1801.73 937.27L1801.73 934.99L1799.45 934.99L1797.16 934.99L1794.88 934.99L1792.6 934.99L1790.93 934.99L1790.32 934.99L1790.32 932.71L1788.03 932.71L1785.75 932.71L1783.47 932.71L1781.19 932.71L1779.52 932.71L1778.9 932.71L1778.9 930.43L1776.62 930.43L1774.34 930.43L1772.06 930.43L1769.77 930.43L1768.1 930.43L1767.49 930.43L1767.49 928.14L1765.21 928.14L1762.93 928.14L1760.64 928.14L1758.36 928.14L1758.36 925.86L1756.08 925.86L1753.8 925.86L1751.51 925.86L1749.23 925.86L1747.56 925.86L1746.95 925.86L1746.95 923.58L1744.67 923.58L1742.38 923.58L1740.1 923.58L1737.82 923.58L1736.15 923.58L1735.54 923.58L1735.54 921.3L1733.25 921.3L1730.97 921.3L1728.69 921.3L1726.41 921.3L1724.74 921.3L1724.12 921.3L1722.45 921.3L1721.84 921.3L1720.17 921.3L1719.56 921.3L1717.89 921.3L1717.28 921.3L1715.61 921.3L1714.99 921.3L1714.99 919.01L1712.71 919.01L1710.43 919.01L1708.15 919.01L1705.86 919.01L1704.19 919.01L1703.58 919.01L1701.91 919.01L1701.3 919.01L1699.63 919.01L1699.02 919.01L1697.35 919.01L1696.73 919.01L1695.06 919.01L1694.45 919.01L1692.78 919.01L1692.17 919.01L1690.5 919.01L1689.89 919.01L1688.22 919.01L1687.6 919.01L1685.93 919.01L1685.32 919.01L1683.65 919.01L1683.04 919.01L1681.37 919.01L1680.76 919.01L1679.09 919.01L1678.47 919.01L1676.8 919.01L1676.19 919.01L1674.52 919.01L1673.91 919.01L1672.24 919.01L1671.63 919.01L1669.96 919.01L1669.34 919.01L1667.67 919.01L1667.06 919.01L1665.39 919.01L1663.11 919.01L1660.83 919.01L1658.54 919.01L1656.26 919.01L1656.26 921.3L1655.65 921.3L1653.98 921.3L1653.37 921.3L1651.7 921.3L1651.08 921.3L1649.41 921.3L1648.8 921.3L1647.13 921.3L1646.52 921.3L1644.85 921.3L1642.57 921.3L1640.28 921.3L1638 921.3L1635.72 921.3L1635.72 923.58L1633.43 923.58L1631.15 923.58L1628.87 923.58L1628.87 925.86L1626.59 925.86L1624.31 925.86L1624.31 928.14L1622.02 928.14L1619.74 928.14L1617.46 928.14L1617.46 930.43L1615.17 930.43L1612.89 930.43L1610.61 930.43L1610.61 932.71L1608.33 932.71L1606.05 932.71L1606.05 934.99L1603.76 934.99L1603.76 937.27L1601.48 937.27L1599.2 937.27L1596.91 937.27L1596.91 939.56L1594.63 939.56L1592.35 939.56L1592.35 941.84L1590.07 941.84L1587.79 941.84L1587.79 944.12L1585.5 944.12L1585.5 946.4L1583.22 946.4L1580.94 946.4L1580.94 948.69L1578.65 948.69L1578.65 950.97L1576.37 950.97L1574.09 950.97L1574.09 953.25L1571.81 953.25L1571.81 955.53L1569.53 955.53L1569.53 957.82L1567.24 957.82L1564.96 957.82L1564.96 960.1L1562.68 960.1L1562.68 962.38L1560.39 962.38L1558.11 962.38L1558.11 964.66L1558.11 966.95L1555.83 966.95L1555.83 969.23L1553.55 969.23L1553.55 971.51L1551.27 971.51L1551.27 973.79L1548.98 973.79L1548.98 976.08L1546.7 976.08L1546.7 978.36L1544.42 978.36L1544.42 980.64L1542.13 980.64L1542.13 982.92L1542.13 985.21L1539.85 985.21L1537.57 985.21L1537.57 987.49L1537.57 989.77L1535.29 989.77L1535.29 992.05L1533.01 992.05L1533.01 994.34L1530.72 994.34L1530.72 996.62L1530.72 998.9L1528.44 998.9L1528.44 1001.18L1526.16 1001.18L1526.16 1003.47L1526.16 1005.75L1523.88 1005.75L1523.88 1008.03L1521.59 1008.03L1521.59 1010.31L1521.59 1012.6L1519.31 1012.6L1519.31 1014.88L1517.03 1014.88L1517.03 1017.16L1517.03 1019.44L1514.75 1019.44L1514.75 1021.73L1512.46 1021.73L1512.46 1024.01L1512.46 1026.29L1510.18 1026.29L1510.18 1028.57L1507.9 1028.57L1507.9 1030.86L1507.9 1033.14L1505.62 1033.14L1505.62 1035.42L1503.33 1035.42L1503.33 1037.7L1503.33 1039.98L1501.05 1039.98L1501.05 1042.27L1501.05 1044.55L1498.77 1044.55L1498.77 1046.83L1498.77 1049.12L1496.49 1049.12L1496.49 1051.4L1494.2 1051.4L1494.2 1053.68L1494.2 1055.96L1491.92 1055.96L1491.92 1058.24L1491.92 1060.53L1489.64 1060.53L1489.64 1062.81L1487.36 1062.81L1487.36 1065.09L1487.36 1067.38L1485.07 1067.38L1485.07 1069.66L1485.07 1071.94L1482.79 1071.94L1482.79 1074.22L1480.51 1074.22L1480.51 1076.51L1480.51 1078.79L1478.23 1078.79L1478.23 1081.07L1478.23 1083.35L1475.94 1083.35L1475.94 1085.63L1475.94 1087.92L1473.66 1087.92L1473.66 1090.2L1473.66 1092.48L1471.38 1092.48L1471.38 1094.77L1469.1 1094.77L1469.1 1097.05L1469.1 1099.33L1466.81 1099.33L1466.81 1101.61L1466.81 1103.89L1464.53 1103.89L1464.53 1106.18L1464.53 1108.46L1462.25 1108.46L1462.25 1110.74L1462.25 1113.03L1459.97 1113.03L1459.97 1115.31L1457.68 1115.31L1457.68 1117.59L1457.68 1119.87L1455.4 1119.87L1455.4 1122.15L1455.4 1124.44L1453.12 1124.44L1453.12 1126.72L1453.12 1129L1450.84 1129L1450.84 1131.29L1448.55 1131.29L1448.55 1133.57L1448.55 1135.85L1446.27 1135.85L1446.27 1138.13L1446.27 1140.41L1443.99 1140.41L1443.99 1142.7L1443.99 1144.98L1441.7 1144.98L1441.7 1147.26L1439.42 1147.26L1439.42 1149.55L1439.42 1151.83L1437.14 1151.83L1437.14 1154.11L1437.14 1156.39L1434.86 1156.39L1434.86 1158.67L1432.58 1158.67L1432.58 1160.96L1432.58 1163.24L1430.29 1163.24L1430.29 1165.52L1430.29 1167.81L1428.01 1167.81L1428.01 1170.09L1425.73 1170.09L1425.73 1172.37L1425.73 1174.65L1423.44 1174.65L1423.44 1176.93L1423.44 1179.22L1421.16 1179.22L1421.16 1181.5L1418.88 1181.5L1418.88 1183.78L1418.88 1186.07L1416.6 1186.07L1416.6 1188.35L1416.6 1190.63L1414.32 1190.63L1414.32 1192.91L1414.32 1195.19L1412.03 1195.19L1412.03 1197.48L1409.75 1197.48L1409.75 1199.76L1409.75 1202.04L1407.47 1202.04L1407.47 1204.33L1407.47 1206.61L1405.18 1206.61L1405.18 1208.89L1405.18 1211.17L1402.9 1211.17L1402.9 1213.45L1400.62 1213.45L1400.62 1215.74L1400.62 1218.02L1398.34 1218.02L1398.34 1220.3L1396.06 1220.3L1396.06 1222.59L1396.06 1224.87L1393.77 1224.87L1393.77 1227.15L1391.49 1227.15L1391.49 1229.43L1391.49 1231.71L1389.21 1231.71L1389.21 1234L1389.21 1236.28L1386.92 1236.28L1386.92 1238.56L1384.64 1238.56L1384.64 1240.85L1384.64 1243.13L1382.36 1243.13L1382.36 1245.41L1380.08 1245.41L1380.08 1247.69L1380.08 1249.97L1377.8 1249.97L1377.8 1252.26L1377.8 1254.54L1375.51 1254.54L1375.51 1256.82L1373.23 1256.82L1373.23 1259.11L1370.95 1259.11L1370.95 1261.39L1370.95 1263.67L1368.66 1263.67L1368.66 1265.95L1366.38 1265.95L1366.38 1268.24L1366.38 1270.52L1364.1 1270.52L1364.1 1272.8L1361.82 1272.8L1361.82 1275.08L1359.54 1275.08L1359.54 1277.37L1359.54 1279.65L1357.25 1279.65L1357.25 1281.93L1354.97 1281.93L1354.97 1284.21L1354.97 1286.5L1352.69 1286.5L1352.69 1288.78L1350.4 1288.78L1350.4 1291.06L1348.12 1291.06L1348.12 1293.34L1348.12 1295.62L1345.84 1295.62L1345.84 1297.91L1343.56 1297.91L1343.56 1300.19L1341.28 1300.19L1341.28 1302.47L1341.28 1304.76L1338.99 1304.76L1338.99 1307.04L1336.71 1307.04L1336.71 1309.32L1336.71 1311.6L1334.43 1311.6L1334.43 1313.88L1332.14 1313.88L1332.14 1316.17L1329.86 1316.17L1329.86 1318.45L1329.86 1320.73L1327.58 1320.73L1327.58 1323.02L1325.3 1323.02L1325.3 1325.3L1323.02 1325.3L1323.02 1327.58L1320.73 1327.58L1320.73 1329.86L1320.73 1332.14L1318.45 1332.14L1318.45 1334.43L1316.17 1334.43L1316.17 1336.71L1313.88 1336.71L1313.88 1338.99L1313.88 1341.28L1311.6 1341.28L1311.6 1343.56L1309.32 1343.56L1309.32 1345.84L1307.04 1345.84L1307.04 1348.12L1304.76 1348.12L1304.76 1350.4L1304.76 1352.69L1302.47 1352.69L1302.47 1354.97L1300.19 1354.97L1300.19 1357.25L1297.91 1357.25L1297.91 1359.54L1295.62 1359.54L1295.62 1361.82L1293.34 1361.82L1293.34 1364.1L1291.06 1364.1L1291.06 1366.38L1288.78 1366.38L1288.78 1368.66L1288.78 1370.95L1286.5 1370.95L1284.21 1370.95L1284.21 1373.23L1284.21 1375.51L1281.93 1375.51L1279.65 1375.51L1279.65 1377.8L1277.37 1377.8L1277.37 1380.08L1275.08 1380.08L1275.08 1382.36L1272.8 1382.36L1272.8 1384.64L1270.52 1384.64L1270.52 1386.92L1268.24 1386.92L1265.95 1386.92L1265.95 1389.21L1263.67 1389.21L1263.67 1391.49L1261.39 1391.49L1261.39 1393.77L1259.11 1393.77L1259.11 1396.06L1256.82 1396.06L1254.54 1396.06L1254.54 1398.34L1252.26 1398.34L1252.26 1400.62L1249.97 1400.62L1249.97 1402.9L1247.69 1402.9L1245.41 1402.9L1245.41 1405.18L1243.13 1405.18L1243.13 1407.47L1240.85 1407.47L1240.85 1409.75L1238.56 1409.75L1236.28 1409.75L1236.28 1412.03L1234 1412.03L1231.71 1412.03Z" fill="#b9529f" fill-rule="evenodd"/>
<rect x="1214.0" y="865.3" width="9.3" height="9.0" fill="none" stroke="#b9529f" stroke-width="1.6"/>
<circle cx="402.6" cy="1102.1" r="16.3" fill="#ed1c24"/>
<circle cx="402.6" cy="1179.5" r="16.3" fill="#6abd45"/>
<circle cx="402.6" cy="1257.2" r="16.3" fill="#3953a4"/>
<rect x="391.9" y="1328.85" width="21.3" height="21.3" fill="none" stroke="#b9529f" stroke-width="5.5"/>
<rect x="391.9" y="1405.85" width="21.3" height="21.3" fill="none" stroke="#2e8540" stroke-width="5.5"/>
<rect x="391.9" y="1483.35" width="21.3" height="21.3" fill="none" stroke="#674ea0" stroke-width="5.5"/>
<text transform="translate(146.69 83.9) scale(1.0015 1.0000)" font-size="64.5" fill="#4a4b4d">10</text>
<text transform="translate(207.04 50.6) scale(1.0583 1.0000)" font-size="48.4" fill="#4a4b4d">3</text>
<text transform="translate(146.69 302.7) scale(1.0015 1.0000)" font-size="64.5" fill="#4a4b4d">10</text>
<text transform="translate(207.67 269.9) scale(1.1622 1.0000)" font-size="48.4" fill="#4a4b4d">2</text>
<text transform="translate(146.69 521) scale(1.0015 1.0000)" font-size="64.5" fill="#4a4b4d">10</text>
<text transform="translate(210.32 489.1) scale(0.8914 1.0000)" font-size="48.4" fill="#4a4b4d">1</text>
<text transform="translate(146.96 739.9) scale(0.9890 1.0000)" font-size="64.5" fill="#4a4b4d">10</text>
<text transform="translate(207.66 707.3) scale(1.1560 1.0000)" font-size="48.4" fill="#4a4b4d">0</text>
<text transform="translate(127.96 962.7) scale(0.9890 1.0000)" font-size="64.5" fill="#4a4b4d">10</text>
<text transform="translate(191.24 931.8) scale(0.9828 1.0000)" font-size="48.4" fill="#4a4b4d">-1</text>
<text transform="translate(127.85 1182) scale(0.9908 1.0000)" font-size="64.5" fill="#4a4b4d">10</text>
<text transform="translate(191.07 1148.9) scale(1.0816 1.0000)" font-size="48.4" fill="#4a4b4d">-2</text>
<text transform="translate(127.85 1401.2) scale(0.9908 1.0000)" font-size="64.5" fill="#4a4b4d">10</text>
<text transform="translate(191.19 1367.8) scale(1.0086 1.0000)" font-size="48.4" fill="#4a4b4d">-3</text>
<text transform="translate(127.85 1618.7) scale(0.9908 1.0000)" font-size="64.5" fill="#4a4b4d">10</text>
<text transform="translate(190.78 1587.2) scale(1.0754 1.0000)" font-size="48.4" fill="#4a4b4d">-4</text>
<text transform="translate(215.19 1687.6) scale(0.9837 1.0000)" font-size="64.5" fill="#4a4b4d">10</text>
<text transform="translate(275.98 1655.5) scale(1.2003 1.0000)" font-size="48.4" fill="#4a4b4d">0</text>
<text transform="translate(693.47 1687.6) scale(0.9873 1.0000)" font-size="64.5" fill="#4a4b4d">10</text>
<text transform="translate(756.42 1655.5) scale(0.8914 1.0000)" font-size="48.4" fill="#4a4b4d">1</text>
<text transform="translate(1175.18 1687.6) scale(0.9855 1.0000)" font-size="64.5" fill="#4a4b4d">10</text>
<text transform="translate(1235.28 1655.5) scale(1.2035 1.0000)" font-size="48.4" fill="#4a4b4d">2</text>
<text transform="translate(1652.04 1687.6) scale(0.9926 1.0000)" font-size="64.5" fill="#4a4b4d">10</text>
<text transform="translate(1713.97 1655.5) scale(1.0028 1.0000)" font-size="48.4" fill="#4a4b4d">3</text>
<text transform="translate(2130.26 1687.6) scale(0.9890 1.0000)" font-size="64.5" fill="#4a4b4d">10</text>
<text transform="translate(2192.04 1655.5) scale(1.0930 1.0000)" font-size="48.4" fill="#4a4b4d">4</text>
<text transform="translate(1147.26 1778.9) scale(1.2000 1.0978)" font-size="84" font-style="italic" fill="#4a4b4d">t</text>
<text transform="translate(1212.28 1784.66) scale(0.6385 1.1674)" font-size="84" fill="#4a4b4d">[</text>
<text transform="translate(1227.08 1778.79) scale(1.0771 0.9598)" font-size="84" fill="#4a4b4d">s</text>
<text transform="translate(1261.13 1784.66) scale(0.6349 1.1674)" font-size="84" fill="#4a4b4d">]</text>
<text transform="rotate(-90) translate(-958.1 85.91) matrix(1.0119 0 -0.2359 0.9350 0 0)" font-size="84" fill="#4a4b4d">η</text>
<text transform="rotate(-90) translate(-876.99 91.81) scale(0.6331 1.1717)" font-size="84" fill="#4a4b4d">[</text>
<text transform="rotate(-90) translate(-859.39 85.2) scale(1.1880 1.0142)" font-size="84" fill="#4a4b4d">P</text>
<text transform="rotate(-90) translate(-804.8 85.4) scale(0.9192 0.9573)" font-size="84" fill="#4a4b4d">a</text>
<text transform="rotate(-90) translate(-761.98 84.43) scale(0.8929 0.9317)" font-size="84" fill="#4a4b4d">.</text>
<text transform="rotate(-90) translate(-743.88 85.4) scale(1.0658 0.9573)" font-size="84" fill="#4a4b4d">s</text>
<text transform="rotate(-90) translate(-709.72 91.81) scale(0.6190 1.1717)" font-size="84" fill="#4a4b4d">]</text>
<text transform="translate(1094.83 1421.8) scale(1.0365 1.0000)" font-size="25.3" fill="#4d4e50">50</text>
<text transform="translate(1082.17 1349.8) scale(1.0242 1.0000)" font-size="25.3" fill="#4d4e50">100</text>
<text transform="translate(1082.17 1277.8) scale(1.0242 1.0000)" font-size="25.3" fill="#4d4e50">150</text>
<text transform="translate(1081.2 1205.8) scale(1.0503 1.0000)" font-size="25.3" fill="#4d4e50">200</text>
<text transform="translate(1081.2 1133.8) scale(1.0503 1.0000)" font-size="25.3" fill="#4d4e50">250</text>
<text transform="translate(1081.07 1061.8) scale(1.0540 1.0000)" font-size="25.3" fill="#4d4e50">300</text>
<text transform="translate(1081.07 989.8) scale(1.0540 1.0000)" font-size="25.3" fill="#4d4e50">350</text>
<text transform="translate(1081.88 917.8) scale(1.0321 1.0000)" font-size="25.3" fill="#4d4e50">400</text>
<text transform="translate(1081.88 845.8) scale(1.0321 1.0000)" font-size="25.3" fill="#4d4e50">450</text>
<text transform="translate(1112.52 1513.1) scale(0.9995 1.0000)" font-size="25.3" fill="#4d4e50">10</text>
<text transform="translate(1138.2 1498.6) scale(1.0526 1.0000)" font-size="19" fill="#4d4e50">0</text>
<text transform="translate(1325.27 1513.1) scale(1.0222 1.0000)" font-size="25.3" fill="#4d4e50">10</text>
<text transform="translate(1351.78 1498.6) scale(1.0075 1.0000)" font-size="19" fill="#4d4e50">1</text>
<text transform="translate(1541.42 1513.1) scale(0.9995 1.0000)" font-size="25.3" fill="#4d4e50">10</text>
<text transform="translate(1566.54 1498.6) scale(1.1184 1.0000)" font-size="19" fill="#4d4e50">2</text>
<text transform="translate(1754.22 1513.1) scale(0.9995 1.0000)" font-size="25.3" fill="#4d4e50">10</text>
<text transform="translate(1779.14 1498.6) scale(1.0141 1.0000)" font-size="19" fill="#4d4e50">3</text>
<text transform="translate(1497.35 1549.7) scale(1.2485 1.1102)" font-size="33" font-style="italic" fill="#4d4e50">t</text>
<text transform="translate(1523.9 1552.6) scale(0.6474 1.2121)" font-size="33" fill="#4d4e50">[</text>
<text transform="translate(1531.04 1549.88) scale(1.1063 0.9848)" font-size="33" fill="#4d4e50">s</text>
<text transform="translate(1545.28 1552.6) scale(0.6195 1.2121)" font-size="33" fill="#4d4e50">]</text>
<text transform="rotate(-90) translate(-1212.28 1064.76) matrix(1.0540 0 -0.2558 0.9732 0 0)" font-size="33" fill="#4d4e50">η</text>
<text transform="rotate(-90) translate(-1178.6 1066.6) scale(0.6474 1.2121)" font-size="33" fill="#4d4e50">[</text>
<text transform="rotate(-90) translate(-1171.12 1064.5) scale(1.1352 1.0409)" font-size="33" fill="#4d4e50">Pa.s</text>
<text transform="rotate(-90) translate(-1110.2 1066.6) scale(0.6061 1.2121)" font-size="33" fill="#4d4e50">]</text>
<text transform="translate(1251.33 876.4) scale(1.0601 1.0000)" font-size="27.5" fill="#0c0c0c">Carbopol</text>
<text transform="translate(1367.82 876.4) scale(1.0202 1.0000)" font-size="27.5" fill="#0c0c0c">dispersion</text>
<text transform="translate(1492.44 876.4) scale(1.0104 1.0000)" font-size="27.5" fill="#0c0c0c">in</text>
<text transform="translate(1524.5 876.4) scale(1.0388 1.0000)" font-size="27.5" fill="#0c0c0c">water/glycerol</text>
<text transform="translate(1697.92 876.4) scale(1.1176 1.0000)" font-size="27.5" fill="#0c0c0c">at</text>
<text transform="translate(1727.56 876.76) matrix(1.1963 0 -0.2914 0.9769 0 0)" font-size="27.5" fill="#0c0c0c">γ</text>
<text transform="translate(1735.17 859.81) scale(0.9091 0.9486)" font-size="27.5" fill="#0c0c0c">.</text>
<text transform="translate(1750.85 878.46) scale(1.4936 1.0036)" font-size="27.5" fill="#0c0c0c">=</text>
<text transform="translate(1780.63 876.4) scale(0.9741 1.0000)" font-size="27.5" fill="#0c0c0c">0.01</text>
<text transform="translate(1832.02 876.4) scale(0.9812 1.0000)" font-size="27.5" fill="#0c0c0c">s</text>
<text transform="translate(1843.82 869.73) scale(1.1828 1.3000)" font-size="20" fill="#0c0c0c">−</text>
<text transform="translate(1857.41 866.4) scale(0.9084 1.0000)" font-size="19.5" fill="#0c0c0c">1</text>
<text transform="translate(880.75 527) scale(0.9874 1.0000)" font-size="62" fill="#0c0c0c">0.1</text>
<text transform="translate(979 527) scale(0.9953 1.0000)" font-size="62" fill="#0c0c0c">wt</text>
<text transform="translate(1111.5 527) scale(1.0466 1.0000)" font-size="62" fill="#0c0c0c">Carbopol</text>
<text transform="translate(1372.29 527) scale(1.0166 1.0000)" font-size="62" fill="#0c0c0c">aqueous</text>
<text transform="translate(1596.49 527) scale(1.0178 1.0000)" font-size="62" fill="#0c0c0c">dispersion</text>
<text transform="translate(880.79 619.7) scale(0.9737 1.0000)" font-size="62" fill="#0c0c0c">0.125</text>
<text transform="translate(1037.9 619.7) scale(0.9953 1.0000)" font-size="62" fill="#0c0c0c">wt</text>
<text transform="translate(1170.51 619.7) scale(1.0462 1.0000)" font-size="62" fill="#0c0c0c">Carbopol</text>
<text transform="translate(1430.6 619.7) scale(1.0130 1.0000)" font-size="62" fill="#0c0c0c">dispersion</text>
<text transform="translate(1710.45 619.7) scale(1.0067 1.0000)" font-size="62" fill="#0c0c0c">in</text>
<text transform="translate(1782.8 619.7) scale(1.0311 1.0000)" font-size="62" fill="#0c0c0c">water/glycerol</text>
<text transform="translate(1044.11 529.22) scale(0.9150 1.1565)" font-size="62" fill="#0c0c0c">%</text>
<text transform="translate(1103.01 621.92) scale(0.9171 1.1565)" font-size="62" fill="#0c0c0c">%</text>
<text transform="translate(805.82 523.61) scale(1.3101 1.0388)" font-size="60" fill="#0c0c0c">●</text>
<text transform="translate(806.36 617.63) scale(1.2803 0.9848)" font-size="60" fill="#0c0c0c">○</text>
<text transform="translate(475.63 1118.12) matrix(1.2366 0 -0.2932 0.9511 0 0)" font-size="64.5" fill="#0c0c0c">γ</text>
<text transform="translate(492.82 1079.61) scale(0.8786 0.9168)" font-size="64.5" fill="#0c0c0c">.</text>
<text transform="translate(536.26 1121.67) scale(1.4070 0.9736)" font-size="64.5" fill="#0c0c0c">=</text>
<text transform="translate(604.53 1117) scale(0.9960 1.0142)" font-size="64.5" fill="#0c0c0c">0.01</text>
<text transform="translate(727.51 1117.09) scale(1.0434 0.9496)" font-size="64.5" fill="#0c0c0c">s</text>
<text transform="translate(754.2 1099.97) scale(1.2623 1.1739)" font-size="46" fill="#0c0c0c">−</text>
<text transform="translate(787.77 1093.9) scale(0.9503 0.9750)" font-size="46" fill="#0c0c0c">1</text>
<text transform="translate(475.63 1196.72) matrix(1.2366 0 -0.2932 0.9511 0 0)" font-size="64.5" fill="#0c0c0c">γ</text>
<text transform="translate(492.82 1158.21) scale(0.8786 0.9168)" font-size="64.5" fill="#0c0c0c">.</text>
<text transform="translate(536.26 1200.27) scale(1.4070 0.9736)" font-size="64.5" fill="#0c0c0c">=</text>
<text transform="translate(604.54 1195.6) scale(0.9936 1.0142)" font-size="64.5" fill="#0c0c0c">0.1</text>
<text transform="translate(695.31 1195.69) scale(1.0434 0.9496)" font-size="64.5" fill="#0c0c0c">s</text>
<text transform="translate(722 1178.57) scale(1.2623 1.1739)" font-size="46" fill="#0c0c0c">−</text>
<text transform="translate(755.57 1172.5) scale(0.9503 0.9750)" font-size="46" fill="#0c0c0c">1</text>
<text transform="translate(475.63 1275.32) matrix(1.2366 0 -0.2932 0.9511 0 0)" font-size="64.5" fill="#0c0c0c">γ</text>
<text transform="translate(492.82 1236.81) scale(0.8786 0.9168)" font-size="64.5" fill="#0c0c0c">.</text>
<text transform="translate(536.26 1278.87) scale(1.4070 0.9736)" font-size="64.5" fill="#0c0c0c">=</text>
<text transform="translate(604.08 1274.2) scale(0.9857 1.0142)" font-size="64.5" fill="#0c0c0c">100</text>
<text transform="translate(708.81 1274.29) scale(1.0434 0.9496)" font-size="64.5" fill="#0c0c0c">s</text>
<text transform="translate(735.5 1257.17) scale(1.2623 1.1739)" font-size="46" fill="#0c0c0c">−</text>
<text transform="translate(769.07 1251.1) scale(0.9503 0.9750)" font-size="46" fill="#0c0c0c">1</text>
<text transform="translate(476.25 1355.5) matrix(0.9858 0 -0.1768 0.8440 0 0)" font-size="64.5" style="font-family:'DejaVu Sans',sans-serif;font-weight:200" fill="#0c0c0c">γ</text>
<text transform="translate(492.82 1315.41) scale(0.8786 0.9168)" font-size="64.5" fill="#0c0c0c">.</text>
<text transform="translate(536.26 1357.47) scale(1.4070 0.9736)" font-size="64.5" fill="#0c0c0c">=</text>
<text transform="translate(604.53 1352.8) scale(0.9960 1.0142)" font-size="64.5" fill="#0c0c0c">0.01</text>
<text transform="translate(727.51 1352.89) scale(1.0434 0.9496)" font-size="64.5" fill="#0c0c0c">s</text>
<text transform="translate(754.2 1335.77) scale(1.2623 1.1739)" font-size="46" fill="#0c0c0c">−</text>
<text transform="translate(787.77 1329.7) scale(0.9503 0.9750)" font-size="46" fill="#0c0c0c">1</text>
<text transform="translate(476.25 1434.1) matrix(0.9858 0 -0.1768 0.8440 0 0)" font-size="64.5" style="font-family:'DejaVu Sans',sans-serif;font-weight:200" fill="#0c0c0c">γ</text>
<text transform="translate(492.82 1394.01) scale(0.8786 0.9168)" font-size="64.5" fill="#0c0c0c">.</text>
<text transform="translate(536.26 1436.07) scale(1.4070 0.9736)" font-size="64.5" fill="#0c0c0c">=</text>
<text transform="translate(604.54 1431.4) scale(0.9936 1.0142)" font-size="64.5" fill="#0c0c0c">0.1</text>
<text transform="translate(695.31 1431.49) scale(1.0434 0.9496)" font-size="64.5" fill="#0c0c0c">s</text>
<text transform="translate(722 1414.37) scale(1.2623 1.1739)" font-size="46" fill="#0c0c0c">−</text>
<text transform="translate(755.57 1408.3) scale(0.9503 0.9750)" font-size="46" fill="#0c0c0c">1</text>
<text transform="translate(476.25 1512.7) matrix(0.9858 0 -0.1768 0.8440 0 0)" font-size="64.5" style="font-family:'DejaVu Sans',sans-serif;font-weight:200" fill="#0c0c0c">γ</text>
<text transform="translate(492.82 1472.61) scale(0.8786 0.9168)" font-size="64.5" fill="#0c0c0c">.</text>
<text transform="translate(536.26 1514.67) scale(1.4070 0.9736)" font-size="64.5" fill="#0c0c0c">=</text>
<text transform="translate(604.08 1510) scale(0.9857 1.0142)" font-size="64.5" fill="#0c0c0c">100</text>
<text transform="translate(708.81 1510.09) scale(1.0434 0.9496)" font-size="64.5" fill="#0c0c0c">s</text>
<text transform="translate(735.5 1492.97) scale(1.2623 1.1739)" font-size="46" fill="#0c0c0c">−</text>
<text transform="translate(769.07 1486.9) scale(0.9503 0.9750)" font-size="46" fill="#0c0c0c">1</text>
</svg>
</body></html>
